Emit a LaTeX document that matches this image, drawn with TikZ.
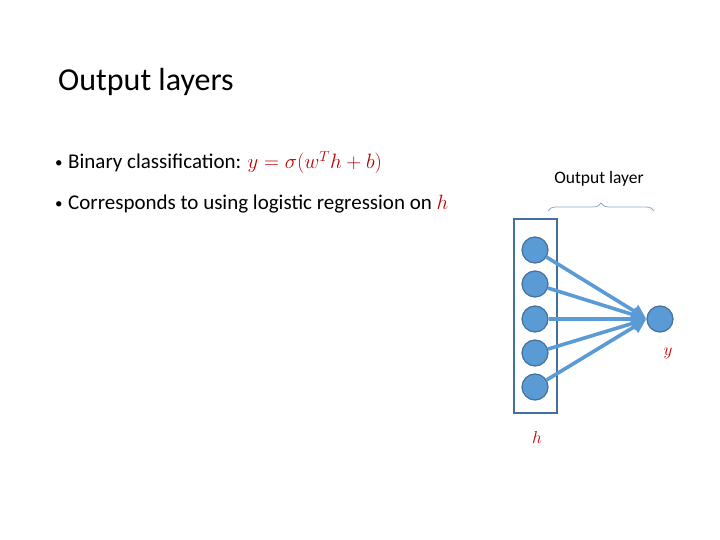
\documentclass[tikz,border=0pt]{standalone}
\usepackage{fontspec}
\setmainfont{Carlito}
\usetikzlibrary{arrows.meta,decorations.pathreplacing}
\definecolor{nfill}{HTML}{5B9BD5}
\definecolor{nedge}{HTML}{41719C}
\definecolor{eqred}{HTML}{C00000}
\definecolor{bracec}{HTML}{8FAACC}
\tikzset{
  neuron/.style={circle,draw=nedge,line width=1.2pt,fill=nfill,minimum size=26pt,inner sep=0pt},
  conn/.style={draw=nfill,line width=3.6pt,-{Triangle[length=14pt,width=14pt]},shorten >=1pt},
  txt/.style={inner sep=0pt,anchor=base west},
  bul/.style={inner sep=0pt,anchor=base west,font=\fontsize{15}{18}\selectfont}
}
\begin{document}
\begin{tikzpicture}[x=1pt,y=-1pt]
\useasboundingbox (0,0) rectangle (720,540);
\fill[white] (0,0) rectangle (720,540);
\node[txt,font=\fontsize{32}{35}\selectfont] (title) at (58,91) {Output layers};
\node[bul] (d1) at (55,168) {\textbullet};
\node[bul] (d2) at (55,209) {\textbullet};
\node[txt,font=\fontsize{21}{24}\selectfont] (b1) at (68,169) {Binary classification: \textcolor{eqred}{\fontsize{21}{24}\selectfont$y=\sigma(w^Th+b)$}};
\node[txt,font=\fontsize{21}{24}\selectfont] (b2) at (68,210) {Corresponds to using logistic regression on \textcolor{eqred}{\fontsize{22}{25}\selectfont$h$}};
\node[draw=nedge,line width=1.5pt,minimum width=43pt,minimum height=194pt,inner sep=0pt] (box) at (535.5,316) {};
\foreach \i/\y in {1/250,2/284,3/319,4/353,5/387}{
  \node[neuron] (h\i) at (535,\y) {};
}
\node[neuron] (out) at (660,319) {};
\coordinate (tip) at (647,319);
\foreach \i in {1,...,5}{
  \draw[conn] (h\i) -- (tip);
}
\draw[bracec,line width=0.8pt,decorate,decoration={brace,amplitude=8pt,raise=0pt}] (548,211) -- (654,211);
\node[font=\fontsize{17.5}{20}\selectfont,inner sep=0pt] (olab) at (599,179) {Output layer};
\node[text=eqred,font=\fontsize{19}{22}\selectfont,inner sep=0pt] (ylab) at (668,353) {$y$};
\node[text=eqred,font=\fontsize{19}{22}\selectfont,inner sep=0pt] (hlab) at (537,437) {$h$};
\end{tikzpicture}
\end{document}
